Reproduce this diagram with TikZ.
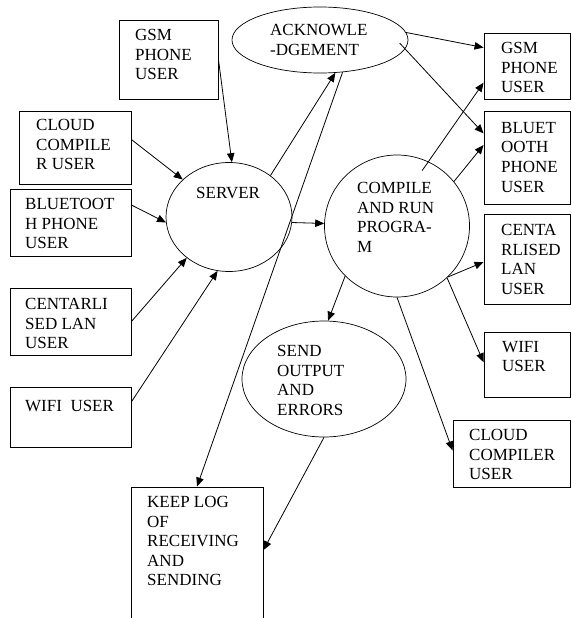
\documentclass[tikz,border=0pt]{standalone}
\usepackage{fontspec}
\setmainfont{Liberation Serif}
\usetikzlibrary{arrows.meta,shapes.geometric}

\begin{document}
\begin{tikzpicture}[x=1pt, y=-1pt,
    box/.style={draw, rectangle, line width=0.9pt, inner sep=0pt},
    oval/.style={draw, ellipse, line width=0.7pt, inner sep=0pt},
    txt/.style={anchor=north west, align=left, inner sep=0pt, font=\fontsize{17}{19.6}\selectfont},
    arr/.style={-{Triangle[length=9pt,width=7.5pt]}, line width=0.8pt}]
    \useasboundingbox (0,0) rectangle (572,618);

    % Users (left)
    \node[box, minimum width=99pt, minimum height=79pt] (gsmL) at (168.5,59.5) {};
    \node[box, minimum width=112pt, minimum height=73pt] (cloudL) at (75,147.5) {};
    \node[box, minimum width=121pt, minimum height=67pt] (btL) at (70.5,222.5) {};
    \node[box, minimum width=121pt, minimum height=67pt] (lanL) at (70.5,321.5) {};
    \node[box, minimum width=121pt, minimum height=60pt] (wifiL) at (70.5,417) {};

    % Processes
    \node[oval, minimum width=176pt, minimum height=66pt] (ack) at (320,40) {};
    \node[oval, minimum width=126pt, minimum height=109pt] (server) at (229,217) {};
    \node[oval, minimum width=145pt, minimum height=142pt] (compile) at (397,226) {};
    \node[oval, minimum width=164pt, minimum height=116pt] (send) at (324,379) {};
    \node[box, minimum width=132pt, minimum height=152pt] (keeplog) at (197,563) {};

    % Users (right)
    \node[box, minimum width=86pt, minimum height=66pt] (gsmR) at (527,66) {};
    \node[box, minimum width=86pt, minimum height=93pt] (btR) at (527,157.5) {};
    \node[box, minimum width=86pt, minimum height=90pt] (lanR) at (527,259) {};
    \node[box, minimum width=86pt, minimum height=65pt] (wifiR) at (527,364.5) {};
    \node[box, minimum width=117pt, minimum height=67pt] (cloudR) at (511.5,453.5) {};

    % Texts
    \node[txt] (gsmLT) at (135,29) {GSM\\PHONE\\USER};
    \node[txt] (cloudLT) at (36,119) {CLOUD\\COMPILE\\R USER};
    \node[txt] (btLT) at (25,198) {BLUETOOT\\H PHONE\\USER};
    \node[txt] (lanLT) at (25,298) {CENTARLI\\SED LAN\\USER};
    \node[txt] (wifiLT) at (25,400) {WIFI\ \ USER};
    \node[txt] (ackT) at (270,24) {ACKNOWLE\\-DGEMENT};
    \node[txt] (serverT) at (196,187) {SERVER};
    \node[txt] (compileT) at (357,182) {COMPILE\\AND RUN\\PROGRA-\\M};
    \node[txt] (sendT) at (277,345) {SEND\\OUTPUT\\AND\\ERRORS};
    \node[txt] (keeplogT) at (147,496) {KEEP LOG\\OF\\RECEIVING\\AND\\SENDING};
    \node[txt] (gsmRT) at (501,42) {GSM\\PHONE\\USER};
    \node[txt] (btRT) at (501,122) {BLUET\\OOTH\\PHONE\\USER};
    \node[txt] (lanRT) at (501,224) {CENTA\\RLISED\\LAN\\USER};
    \node[txt] (wifiRT) at (502,341) {WIFI\\USER};
    \node[txt] (cloudRT) at (469,429) {CLOUD\\COMPILER\\USER};

    % Edges
    % users -> server
    \draw[arr] (gsmL.east) -- (server.87);
    \draw[arr] (cloudL.8) -- (server.141);
    \draw[arr] (btL.16) -- (server.185);
    \draw[arr] (lanL.east) -- (server.224);
    \draw[arr] (wifiL.14) -- (server.258);

    % server -> acknowledgement -> log
    \draw[arr] (server.45) -- (ack.295);
    \draw[arr] (ack.305) -- (keeplog.north);
    \draw[arr] (ack.5) -- (gsmR.157);
    \draw[arr, shorten <=-8pt] (ack.354) -- (btR.151);

    % server -> compile -> users
    \draw[arr] (server.355) -- (compile.178);
    \draw[arr, shorten <=-11pt] (compile.64) -- (gsmR.201);
    \draw[arr] (compile.38) -- (btR.164);
    \draw[arr] (compile.315) -- (lanR.184);
    \draw[arr] (compile.314) -- (wifiR.177);
    \draw[arr] (compile.south) -- (cloudR.177);

    % output and errors
    \draw[arr] (compile.224) -- (send.86);
    \draw[arr] (send.south) -- (keeplog.11);
\end{tikzpicture}
\end{document}
